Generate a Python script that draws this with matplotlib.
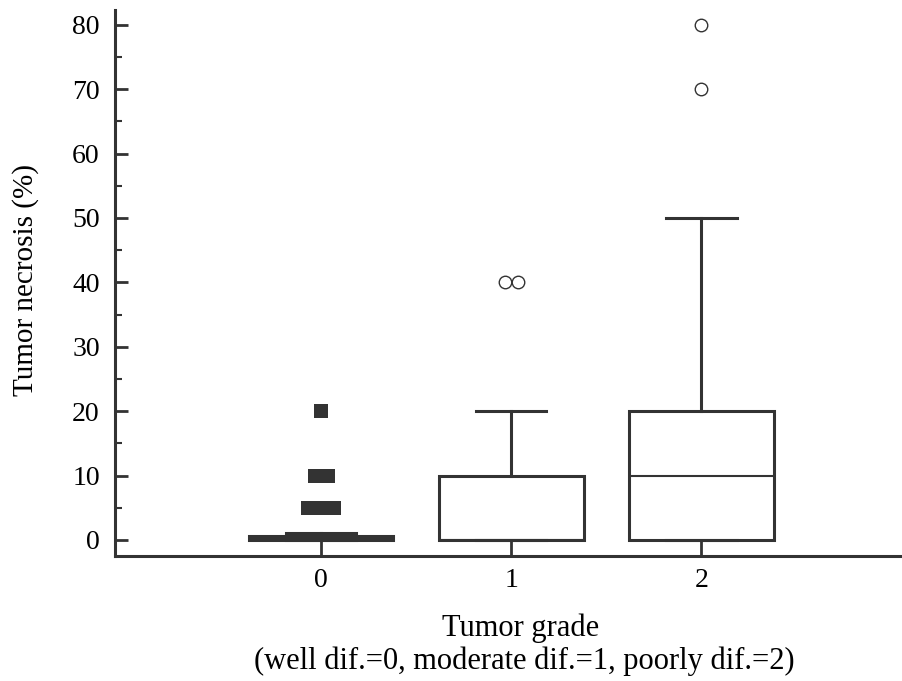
import numpy as np
import matplotlib
matplotlib.use("Agg")
import matplotlib.pyplot as plt

plt.rcParams['font.family'] = ['Liberation Serif', 'DejaVu Serif']

grades = [0, 1, 2]
grade_labels = ['0', '1', '2']
q1 = [0, 0, 0]
med = [0, 0, 10]
q3 = [0.6, 10, 20]
whislo = [0, 0, 0]
whishi = [1, 20, 50]
# far outliers (filled squares) and outliers (open circles)
far_out = [[5, 5, 5, 10, 10, 20], [], []]
near_out = [[], [40, 40], [70, 80]]

col = '#333333'
fig = plt.figure(figsize=(9.03, 6.81), dpi=100)
ax = fig.add_axes([0.1274, 0.1836, 0.8726, 0.8017])

stats = []
for i in range(3):
    stats.append(dict(med=med[i], q1=q1[i], q3=q3[i], whislo=whislo[i], whishi=whishi[i], fliers=[]))
lp = dict(color=col, linewidth=2.2)
bp = ax.bxp(stats, positions=grades, widths=0.76, capwidths=0.37, showfliers=False,
            patch_artist=True,
            boxprops=dict(edgecolor=col, facecolor='white', linewidth=2.2),
            whiskerprops=lp, capprops=lp,
            medianprops=dict(color=col, linewidth=1.5))
bp['boxes'][0].set_facecolor(col)

def jitter(vals, step=0.07):
    xs = []
    vals = list(vals)
    for v in vals:
        n = vals.count(v)
        k = len([x for x in xs if x[1] == v])
        xs.append(((k - (n - 1) / 2.0) * step, v))
    return [x[0] for x in xs]

for g in grades:
    if far_out[g]:
        dx = jitter(far_out[g])
        ax.plot(np.array(dx) + g, far_out[g], 's', color=col, markersize=10, markeredgewidth=0, linestyle='none')
    if near_out[g]:
        dx = jitter(near_out[g])
        ax.plot(np.array(dx) + g, near_out[g], 'o', markerfacecolor='white', markeredgecolor=col,
                markersize=9, markeredgewidth=1.0, linestyle='none')

ax.set_xlim(-1.084, 3.06)
ax.set_ylim(-2.49, 82.3)
ax.set_xticks(grades)
ax.set_xticklabels(grade_labels)
ax.set_yticks(np.arange(0, 81, 10))
ax.set_yticks(np.arange(5, 80, 10), minor=True)
ax.tick_params(axis='both', direction='in', colors=col, labelcolor='black', labelsize=20, width=2)
ax.tick_params(axis='y', which='major', length=9, pad=11)
ax.tick_params(axis='y', which='minor', length=5, width=1.5, direction='in', colors=col)
ax.tick_params(axis='x', which='major', length=11, pad=9)
for s in ['top', 'right']:
    ax.spines[s].set_visible(False)
for s in ['left', 'bottom']:
    ax.spines[s].set_linewidth(2.2)
    ax.spines[s].set_color(col)

ax.set_ylabel('Tumor necrosis (%)', fontsize=21, va='center')
ax.yaxis.set_label_coords(-0.113, 0.505)
fig.text(521 / 903, 1 - 628 / 681, 'Tumor grade', ha='center', va='center', fontsize=22)
fig.text(524 / 903, 1 - 661 / 681, '(well dif.=0, moderate dif.=1, poorly dif.=2)', ha='center', va='center', fontsize=22)

fig.savefig('out.png', dpi=100)
